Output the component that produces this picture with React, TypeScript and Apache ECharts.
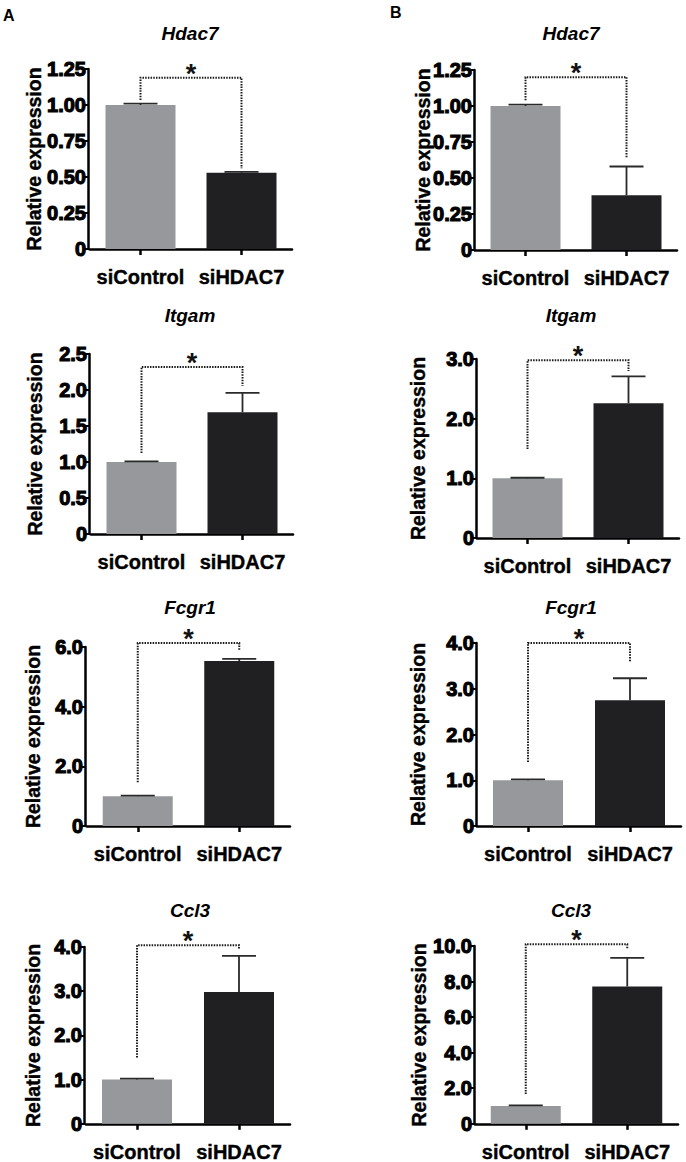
import React, { useEffect, useRef } from "react";
import * as echarts from "echarts";

const genes = ["Hdac7", "Itgam", "Fcgr1", "Ccl3"];
const categories = ["siControl", "siHDAC7"];

// Panel A
const aControl = [1.0, 1.0, 1.0, 1.0];
const aControlErr = [0.01, 0.01, 0.02, 0.02];
const aSi = [0.53, 1.69, 5.53, 2.98];
const aSiErr = [0.005, 0.27, 0.07, 0.82];
const aMax = [1.25, 2.5, 6, 4];
const aStep = [0.25, 0.5, 2, 1];
const aDec = [2, 1, 1, 1];
const aBracket = [1.19, 2.32, 6.13, 4.04];
const aBracketLeft = [1.035, 1.125, 1.47, 1.5];
const aBracketRight = [0.56, 2.06, 5.9, 3.96];

// Panel B
const bControl = [1.0, 1.0, 1.0, 1.0];
const bControlErr = [0.01, 0.01, 0.02, 0.04];
const bSi = [0.38, 2.26, 2.75, 7.72];
const bSiErr = [0.2, 0.45, 0.48, 1.61];
const bMax = [1.25, 3, 4, 10];
const bStep = [0.25, 1, 1, 2];
const bDec = [2, 1, 1, 1];
const bBracket = [1.2, 2.98, 4.0, 10.1];
const bBracketLeft = [1.04, 1.49, 1.4, 1.67];
const bBracketRight = [0.64, 2.8, 3.58, 9.83];

const GRAY = "#97989b";
const DARK = "#202022";

// layout (positions only)
const layoutA = [
  { left: 90, top: 69, width: 202, height: 180 },
  { left: 91, top: 354, width: 202, height: 180 },
  { left: 87, top: 647, width: 203, height: 179 },
  { left: 86, top: 947, width: 204, height: 181 },
];
const layoutB = [
  { left: 475, top: 70, width: 202, height: 180 },
  { left: 477, top: 359, width: 202, height: 179 },
  { left: 477, top: 643, width: 204, height: 183 },
  { left: 475, top: 946, width: 203, height: 180 },
];
const titleY = [33, 315, 607, 910];

const FONT = "'Liberation Sans', Arial, Helvetica, sans-serif";

export default function App() {
  const ref = useRef<HTMLDivElement>(null);
  useEffect(() => {
    document.body.style.margin = "0";
    if (!ref.current) return;
    const chart = echarts.init(ref.current, null, { renderer: "svg" });

    const grids: any[] = [];
    const xAxes: any[] = [];
    const yAxes: any[] = [];
    const series: any[] = [];
    const graphics: any[] = [];

    const panels = [
      { lay: layoutA, ctrl: aControl, ctrlErr: aControlErr, si: aSi, siErr: aSiErr, max: aMax, step: aStep, dec: aDec, br: aBracket, brL: aBracketLeft, brR: aBracketRight, nameGap: [44, 44, 42, 41], offset: 2 },
      { lay: layoutB, ctrl: bControl, ctrlErr: bControlErr, si: bSi, siErr: bSiErr, max: bMax, step: bStep, dec: bDec, br: bBracket, brL: bBracketLeft, brR: bBracketRight, nameGap: [41, 48, 48, 45], offset: 1 },
    ];

    let gi = 0;
    panels.forEach((p, col) => {
      for (let r = 0; r < 4; r++) {
        const lay = p.lay[r];
        grids.push({ ...lay });
        const dec = p.dec[r];
        xAxes.push({
          type: "category",
          gridIndex: gi,
          data: categories,
          axisLine: { show: true, lineStyle: { color: "#000", width: 2.5 } },
          axisTick: { show: true, alignWithLabel: true, length: 6, lineStyle: { color: "#000", width: 2.5 } },
          axisLabel: { color: "#000", fontFamily: FONT, fontWeight: "bold", fontSize: 20, margin: 18, interval: 0, textBorderColor: "#000", textBorderWidth: 0.4 },
        });
        yAxes.push({
          type: "value",
          gridIndex: gi,
          min: 0,
          max: p.max[r],
          interval: p.step[r],
          offset: p.offset,
          splitLine: { show: false },
          axisLine: { show: true, lineStyle: { color: "#000", width: 2.5 } },
          axisTick: { show: true, length: 4, lineStyle: { color: "#000", width: 2 } },
          axisLabel: {
            color: "#000",
            fontFamily: FONT,
            fontWeight: "bold",
            fontSize: 20,
            margin: 2,
            textBorderColor: "#000",
            textBorderWidth: 1.1,
            formatter: (v: number) => (v === 0 ? "0" : v.toFixed(dec)),
          },
          name: "Relative expression",
          nameLocation: "middle",
          nameGap: p.nameGap[r],
          nameMoveOverlap: false,
          nameTextStyle: { color: "#000", fontFamily: FONT, fontWeight: "bold", fontSize: 19.5, textBorderColor: "#000", textBorderWidth: 0.4 },
        });
        series.push({
          type: "bar",
          xAxisIndex: gi,
          yAxisIndex: gi,
          barWidth: 70,
          data: [
            { value: p.ctrl[r], itemStyle: { color: GRAY } },
            { value: p.si[r], itemStyle: { color: DARK } },
          ],
        });
        series.push({
          type: "custom",
          xAxisIndex: gi,
          yAxisIndex: gi,
          clip: false,
          z: 5,
          data: [
            [0, p.ctrl[r], p.ctrlErr[r]],
            [1, p.si[r], p.siErr[r]],
          ],
          encode: { x: 0, y: 1 },
          renderItem: (params: any, api: any) => {
            const x = api.value(0);
            const y = api.value(1);
            const e = api.value(2);
            const p0 = api.coord([x, y]);
            const p1 = api.coord([x, y + e]);
            const hw = 17;
            return {
              type: "group",
              children: [
                { type: "line", shape: { x1: p0[0], y1: p0[1], x2: p1[0], y2: p1[1] }, style: { stroke: "#2a2a2a", lineWidth: 1.8 } },
                { type: "line", shape: { x1: p1[0] - hw, y1: p1[1], x2: p1[0] + hw, y2: p1[1] }, style: { stroke: "#2a2a2a", lineWidth: 1.8 } },
              ],
            };
          },
        });
        series.push({
          type: "custom",
          xAxisIndex: gi,
          yAxisIndex: gi,
          clip: false,
          z: 6,
          data: [[0, p.br[r], p.brL[r], p.brR[r]]],
          encode: { x: 0, y: 1 },
          renderItem: (params: any, api: any) => {
            const t = api.value(1);
            const lb = api.value(2);
            const rb = api.value(3);
            const pL = api.coord([0, t]);
            const pR = api.coord([1, t]);
            const pLb = api.coord([0, lb]);
            const pRb = api.coord([1, rb]);
            return {
              type: "group",
              children: [
                {
                  type: "polyline",
                  shape: { points: [[pL[0], pLb[1]], [pL[0], pL[1]], [pR[0], pR[1]], [pR[0], pRb[1]]] },
                  style: { stroke: "#1a1a1a", lineWidth: 2, lineDash: [1.5, 1.2], fill: null },
                },
                {
                  type: "text",
                  x: (pL[0] + pR[0]) / 2,
                  y: pL[1] - 4,
                  style: { text: "*", fontSize: 27, fontWeight: "bold", fontFamily: FONT, fill: "#111", align: "center", verticalAlign: "middle" },
                },
              ],
            };
          },
        });
        graphics.push({
          type: "text",
          x: col === 0 ? 190 : 571,
          y: titleY[r],
          style: { text: genes[r], fontSize: 19, fontWeight: "bold", fontStyle: "italic", fontFamily: FONT, fill: "#000", align: "center", verticalAlign: "middle" },
        });
        gi++;
      }
    });

    graphics.push({ type: "text", x: 3, y: 15, style: { text: "A", fontSize: 16, fontWeight: "bold", fontFamily: FONT, fill: "#000", align: "left", verticalAlign: "middle" } });
    graphics.push({ type: "text", x: 390, y: 12, style: { text: "B", fontSize: 16, fontWeight: "bold", fontFamily: FONT, fill: "#000", align: "left", verticalAlign: "middle" } });

    chart.setOption({
      animation: false,
      backgroundColor: "#fff",
      grid: grids,
      xAxis: xAxes,
      yAxis: yAxes,
      series,
      graphic: graphics,
    });
    return () => chart.dispose();
  }, []);
  return <div ref={ref} style={{ position: "absolute", left: 0, top: 0, width: 686, height: 1162 }} />;
}
